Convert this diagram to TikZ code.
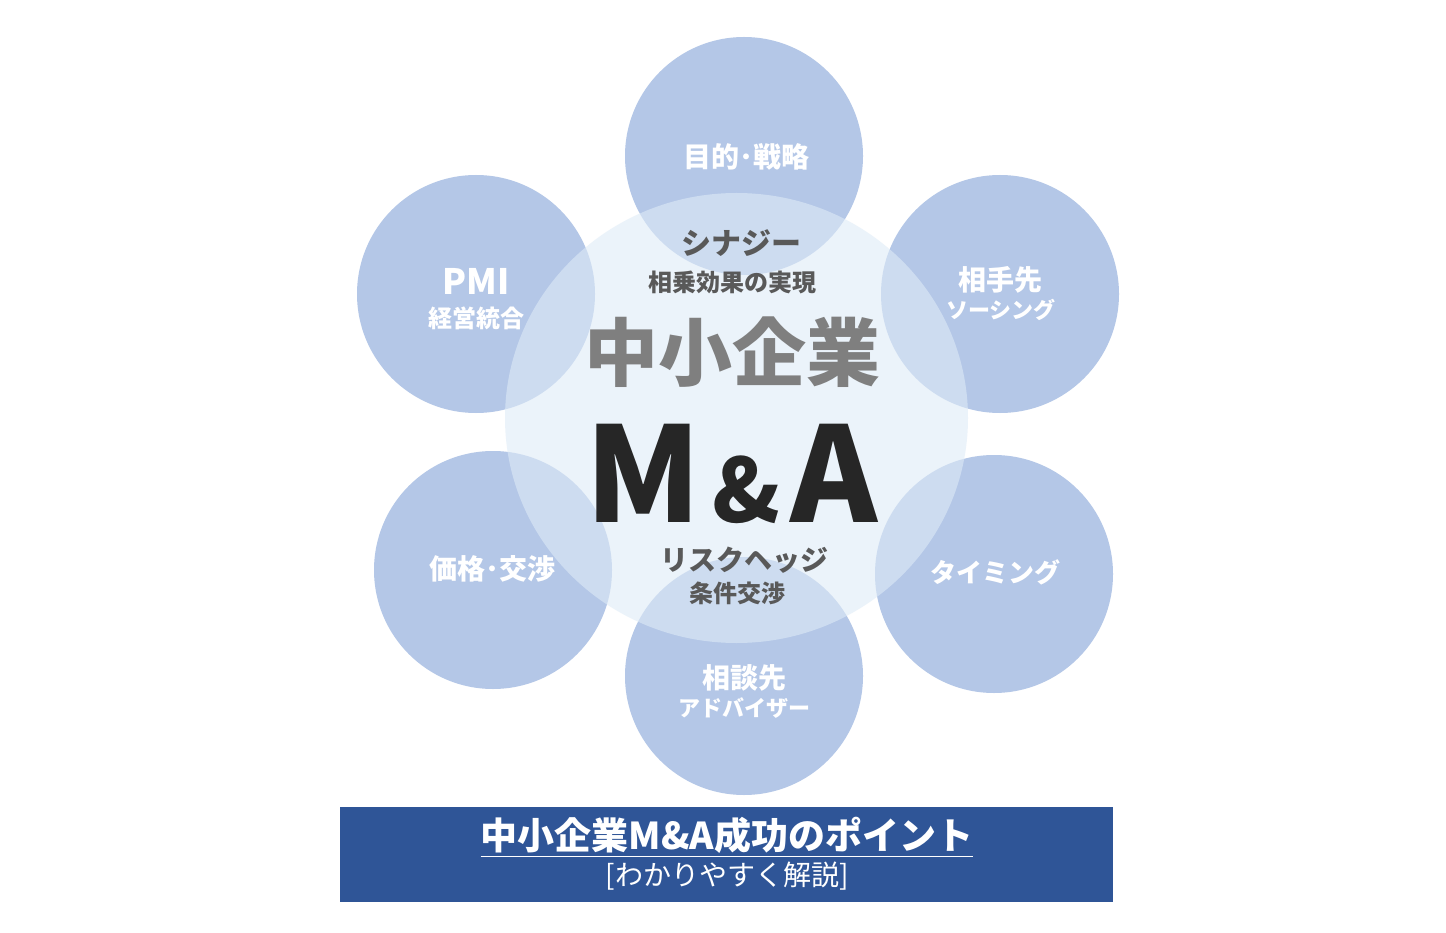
\documentclass[tikz,border=0pt]{standalone}
\usepackage{fontspec}
\setmainfont{Noto Sans CJK JP}
\usetikzlibrary{positioning,shapes.geometric}
\definecolor{petalblue}{HTML}{B4C7E7}
\definecolor{hubblue}{HTML}{DEEBF7}
\definecolor{bannerblue}{HTML}{2F5597}
\definecolor{darkgray}{HTML}{595959}
\definecolor{midgray}{HTML}{7F7F7F}
\definecolor{inkgray}{HTML}{262626}
\tikzset{
  petal/.style={circle, fill=petalblue, inner sep=0pt, minimum size=238pt},
  hub/.style={ellipse, fill=hubblue, fill opacity=0.6, inner sep=0pt, minimum width=463pt, minimum height=450pt},
  petaltext/.style={text=white, font=\bfseries\fontsize{#1}{#1}\selectfont, inner sep=0pt},
  hubtext/.style={text=darkgray, font=\bfseries\fontsize{#1}{#1}\selectfont, inner sep=0pt}
}
\begin{document}
\begin{tikzpicture}[x=1pt,y=-1pt]
   \useasboundingbox (0,0) rectangle (1446,933);
   \fill[white] (0,0) rectangle (1446,933);
   % petals
   \node [petal] (goal)   at (744,156) {};
   \node [petal] (pmi)    at (476,294) {};
   \node [petal] (target) at (1000,294) {};
   \node [petal] (price)  at (493,570) {};
   \node [petal] (timing) at (994,574) {};
   \node [petal] (advise) at (744,676) {};
   % hub
   \node [hub] (hub) at (736.5,418) {};
   % petal labels
   \node [petaltext=28] (goal_t)   at (746,157) {目的･戦略};
   \node [petaltext=35] (pmi_t)    at (476,281) {PMI};
   \node [petaltext=24] (pmi_s)    at (476,318) {経営統合};
   \node [petaltext=28] (target_t) at (1000,280) {相手先};
   \node [petaltext=22] (target_s) at (1001,310) {ソーシング};
   \node [petaltext=28] (price_t)  at (492,569) {価格･交渉};
   \node [petaltext=26] (timing_t) at (995,572) {タイミング};
   \node [petaltext=28] (advise_t) at (744,678) {相談先};
   \node [petaltext=22] (advise_s) at (744,708) {アドバイザー};
   % hub labels
   \node [hubtext=30] (synergy)   at (741,243) {シナジー};
   \node [hubtext=24] (synergy_s) at (732,282) {相乗効果の実現};
   \node [hubtext=74, text=midgray] (sme) at (732,352) {中小企業};
   \node [hubtext=132, text=inkgray] (ma) at (732,474) {M\hspace{0.08em}{\fontsize{88}{88}\selectfont\&}\hspace{0.08em}A};
   \node [hubtext=28] (hedge)   at (744,560) {リスクヘッジ};
   \node [hubtext=24] (hedge_s) at (737,593) {条件交渉};
   % banner
   \fill[bannerblue] (340,807) rectangle (1113,902);
   \node [petaltext=37] (title) at (727,835) {中小企業M\&A成功のポイント};
   \draw[white, line width=1.5pt] ([yshift=-3pt]title.south west) -- ([yshift=-3pt]title.south east);
   \node [text=white, font=\fontsize{28}{28}\selectfont, inner sep=0pt] (subtitle) at (727,876) {[わかりやすく解説]};
\end{tikzpicture}
\end{document}
